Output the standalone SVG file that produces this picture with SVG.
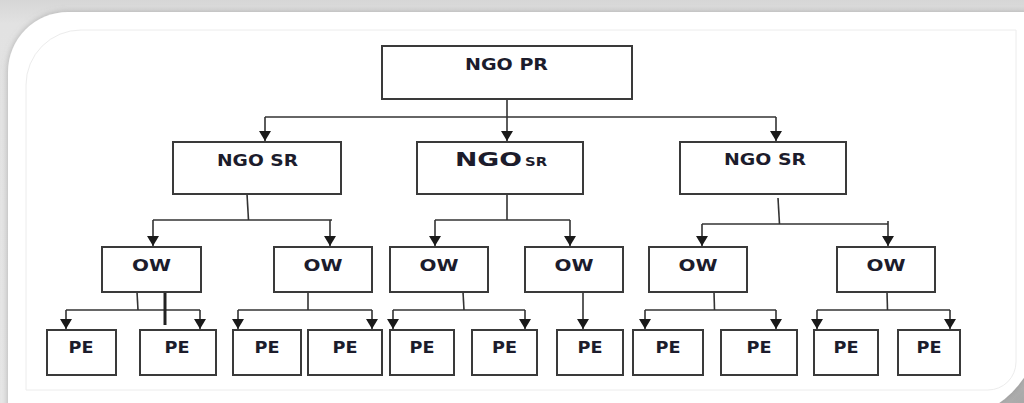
<svg xmlns="http://www.w3.org/2000/svg" width="1024" height="403" viewBox="0 0 1024 403">
<defs>
<linearGradient id="bgTop" x1="0" y1="0" x2="0" y2="1">
<stop offset="0" stop-color="#d6d6d6"/>
<stop offset="0.06" stop-color="#e2e2e2"/>
<stop offset="1" stop-color="#e6e6e6"/>
</linearGradient>
<radialGradient id="brShadow" cx="1024" cy="403" r="130" gradientUnits="userSpaceOnUse">
<stop offset="0" stop-color="#a8a8a8"/>
<stop offset="0.6" stop-color="#c4c4c4"/>
<stop offset="1" stop-color="#e2e2e2"/>
</radialGradient>
<filter id="sh" x="-5%" y="-5%" width="110%" height="110%">
<feDropShadow dx="0" dy="0" stdDeviation="3" flood-color="#8a8a8a" flood-opacity="0.6"/>
</filter>
<marker id="arr" markerUnits="userSpaceOnUse" markerWidth="10" markerHeight="12" refX="10" refY="6" orient="auto" viewBox="0 0 10 12">
<path d="M0,0 L10,6 L0,12 z" fill="#1a1a1a"/>
</marker>
<style>
.box{fill:#ffffff;stroke:#3a3a3a;stroke-width:2}
.lbl{font-family:"DejaVu Sans","Liberation Sans",sans-serif;font-weight:bold;fill:#1c1c2c;text-anchor:middle}
.big{font-size:16.5px}
.ow{font-size:16px}
.pe{font-size:15px}
.ln{fill:none;stroke:#333333;stroke-width:1.6}
.ar{fill:none;stroke:#333333;stroke-width:1.6;marker-end:url(#arr)}
</style>
</defs>

<g id="frame">
<rect x="0" y="0" width="1024" height="403" fill="url(#bgTop)"/>
<rect x="880" y="260" width="144" height="143" fill="url(#brShadow)"/>
<path d="M8,72 A60,60 0 0 1 68,12 L1040,12 L1040,325 A95,95 0 0 1 945,420 L8,420 Z" fill="#ffffff" filter="url(#sh)"/>
<path d="M26,85 A55,55 0 0 1 81,30 L1016,30 L1016,362 A28,28 0 0 1 988,390 L26,390 Z" fill="none" stroke="#ececec" stroke-width="1"/>
</g>

<g id="connectors">
<path class="ar" d="M507,99 L507,141"/>
<path class="ln" d="M265,117 L776,117"/>
<path class="ar" d="M265,117 L265,141"/>
<path class="ar" d="M776,117 L776,141"/>

<path class="ln" d="M247,194 L248.5,220"/>
<path class="ln" d="M153,220 L332,220"/>
<path class="ar" d="M153,220 L153,246"/>
<path class="ar" d="M330,220 L330,246"/>

<path class="ln" d="M507,194 L507,220"/>
<path class="ln" d="M435,220 L570,220"/>
<path class="ar" d="M435,220 L435,246"/>
<path class="ar" d="M570,220 L570,246"/>

<path class="ln" d="M778,198 L779.5,224"/>
<path class="ln" d="M702,224 L888,224"/>
<path class="ar" d="M702,224 L702,246"/>
<path class="ar" d="M888,221 L888,246"/>

<path class="ln" d="M137,292 L138,310"/>
<path class="ln" d="M66,310 L200,310"/>
<path class="ar" d="M66,310 L66,329"/>
<path class="ar" d="M200,310 L200,329"/>
<path d="M165,289 L165,325" fill="none" stroke="#222222" stroke-width="3"/>

<path class="ln" d="M308,292 L308,310"/>
<path class="ln" d="M238,310 L372,310"/>
<path class="ar" d="M238,310 L238,329"/>
<path class="ar" d="M372,310 L372,329"/>

<path class="ln" d="M463,292 L464,310"/>
<path class="ln" d="M393,310 L525,310"/>
<path class="ar" d="M393,310 L393,329"/>
<path class="ar" d="M525,310 L525,329"/>

<path class="ar" d="M583,292 L583,329"/>

<path class="ln" d="M714,292 L714.5,310"/>
<path class="ln" d="M645,310 L776,310"/>
<path class="ar" d="M645,310 L645,329"/>
<path class="ar" d="M776,310 L776,329"/>

<path class="ln" d="M887,292 L887.5,310"/>
<path class="ln" d="M817,310 L950,310"/>
<path class="ar" d="M817,310 L817,329"/>
<path class="ar" d="M950,310 L950,329"/>
</g>

<g id="ngo-pr"><rect class="box" x="382" y="46" width="250" height="53"/><text class="lbl big" x="506.5" y="70" textLength="83" lengthAdjust="spacingAndGlyphs">NGO PR</text></g>

<g id="sr1"><rect class="box" x="173" y="142" width="168" height="52"/><text class="lbl big" x="257.5" y="166" textLength="81" lengthAdjust="spacingAndGlyphs">NGO SR</text></g>
<g id="sr2"><rect class="box" x="417" y="142" width="166" height="52"/><text class="lbl" style="font-size:19px;text-anchor:start" x="455" y="166" textLength="67" lengthAdjust="spacingAndGlyphs">NGO</text><text class="lbl" style="font-size:13px;text-anchor:start" x="525" y="166" textLength="22" lengthAdjust="spacingAndGlyphs">SR</text></g>
<g id="sr3"><rect class="box" x="680" y="142" width="166" height="52"/><text class="lbl big" x="765" y="165" textLength="82" lengthAdjust="spacingAndGlyphs">NGO SR</text></g>

<g id="ow1"><rect class="box" x="102" y="247" width="99" height="45"/><text class="lbl ow" x="151.5" y="271" textLength="39" lengthAdjust="spacingAndGlyphs">OW</text></g>
<g id="ow2"><rect class="box" x="274" y="247" width="98" height="45"/><text class="lbl ow" x="323" y="271" textLength="39" lengthAdjust="spacingAndGlyphs">OW</text></g>
<g id="ow3"><rect class="box" x="390" y="247" width="98" height="45"/><text class="lbl ow" x="439" y="271" textLength="39" lengthAdjust="spacingAndGlyphs">OW</text></g>
<g id="ow4"><rect class="box" x="525" y="247" width="98" height="45"/><text class="lbl ow" x="574" y="271" textLength="39" lengthAdjust="spacingAndGlyphs">OW</text></g>
<g id="ow5"><rect class="box" x="649" y="247" width="98" height="45"/><text class="lbl ow" x="698" y="271" textLength="39" lengthAdjust="spacingAndGlyphs">OW</text></g>
<g id="ow6"><rect class="box" x="837" y="247" width="98" height="45"/><text class="lbl ow" x="886" y="271" textLength="39" lengthAdjust="spacingAndGlyphs">OW</text></g>

<g id="pe1"><rect class="box" x="47" y="330" width="69" height="45"/><text class="lbl pe" x="81" y="353" textLength="25" lengthAdjust="spacingAndGlyphs">PE</text></g>
<g id="pe2"><rect class="box" x="140" y="330" width="76" height="45"/><text class="lbl pe" x="177" y="353" textLength="25" lengthAdjust="spacingAndGlyphs">PE</text></g>
<g id="pe3"><rect class="box" x="233" y="330" width="68" height="45"/><text class="lbl pe" x="267" y="353" textLength="25" lengthAdjust="spacingAndGlyphs">PE</text></g>
<g id="pe4"><rect class="box" x="308" y="330" width="74" height="45"/><text class="lbl pe" x="345" y="353" textLength="25" lengthAdjust="spacingAndGlyphs">PE</text></g>
<g id="pe5"><rect class="box" x="390" y="330" width="64" height="45"/><text class="lbl pe" x="422" y="353" textLength="25" lengthAdjust="spacingAndGlyphs">PE</text></g>
<g id="pe6"><rect class="box" x="472" y="330" width="65" height="45"/><text class="lbl pe" x="504.5" y="353" textLength="25" lengthAdjust="spacingAndGlyphs">PE</text></g>
<g id="pe7"><rect class="box" x="557" y="330" width="66" height="45"/><text class="lbl pe" x="590" y="353" textLength="25" lengthAdjust="spacingAndGlyphs">PE</text></g>
<g id="pe8"><rect class="box" x="633" y="330" width="70" height="45"/><text class="lbl pe" x="668" y="353" textLength="25" lengthAdjust="spacingAndGlyphs">PE</text></g>
<g id="pe9"><rect class="box" x="721" y="330" width="76" height="45"/><text class="lbl pe" x="759" y="353" textLength="25" lengthAdjust="spacingAndGlyphs">PE</text></g>
<g id="pe10"><rect class="box" x="814" y="330" width="64" height="45"/><text class="lbl pe" x="846" y="353" textLength="25" lengthAdjust="spacingAndGlyphs">PE</text></g>
<g id="pe11"><rect class="box" x="898" y="330" width="62" height="45"/><text class="lbl pe" x="929" y="353" textLength="25" lengthAdjust="spacingAndGlyphs">PE</text></g>
</svg>
